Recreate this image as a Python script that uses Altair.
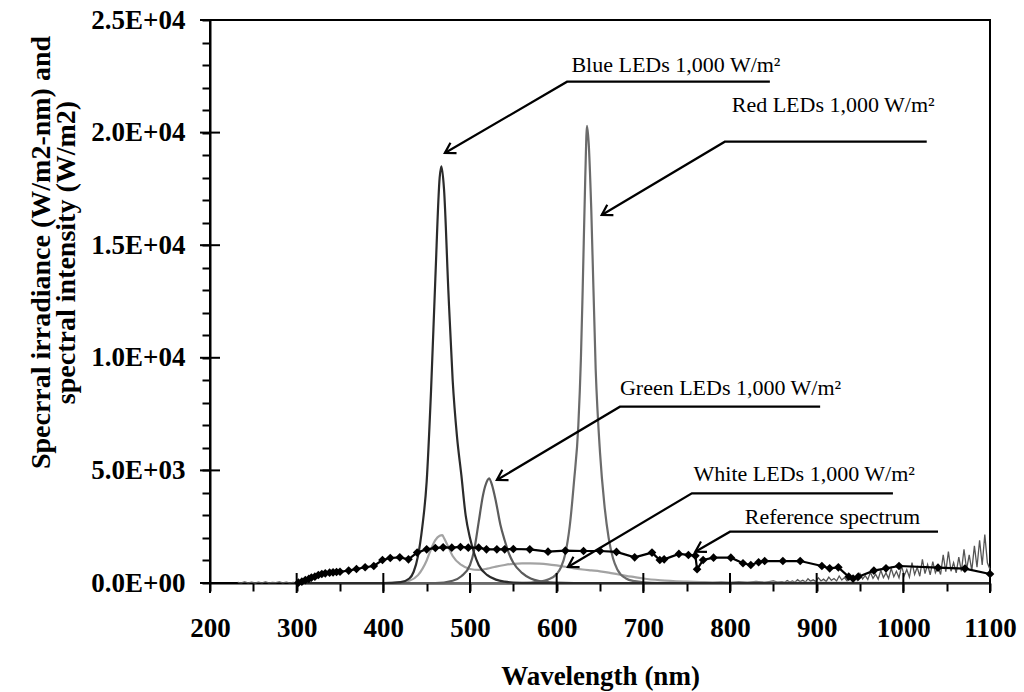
import math
import json
import altair as alt
import pandas as pd

# ---------------- data ----------------
blue_wl = [300, 400, 420, 430, 435, 440, 445, 450, 455, 460, 465, 467, 470, 475, 480, 485, 490, 495, 500, 505, 510, 520, 530, 540, 550, 570, 1100]
blue_val = [0, 0, 40, 200, 500, 1200, 2500, 4500, 8500, 13500, 18000, 18500, 17500, 13000, 9000, 6500, 4800, 3000, 2000, 1300, 800, 350, 150, 60, 20, 0, 0]

red_wl = [300, 560, 580, 590, 600, 605, 610, 615, 620, 625, 628, 630, 633, 635, 637, 640, 645, 650, 655, 660, 665, 670, 680, 690, 700, 720, 760]
red_val = [0, 0, 60, 150, 400, 700, 1300, 2500, 4500, 7000, 10000, 13000, 18000, 20300, 19500, 16500, 9500, 5800, 3500, 2000, 1100, 600, 200, 80, 30, 0, 0]

green_wl = [300, 460, 480, 490, 500, 505, 510, 515, 520, 522, 525, 530, 535, 540, 545, 550, 560, 570, 580, 600, 620, 1100]
green_val = [0, 0, 100, 300, 800, 1500, 2700, 3900, 4550, 4650, 4400, 3600, 2600, 1900, 1300, 900, 450, 200, 90, 20, 0, 0]

white_wl = [300, 400, 420, 430, 440, 450, 455, 460, 465, 468, 470, 475, 480, 490, 500, 510, 520, 530, 540, 550, 560, 570, 580, 590, 600, 610, 620, 630, 640, 650, 660, 670, 680, 690, 700, 720, 750, 800, 1100]
white_val = [0, 0, 30, 100, 350, 1000, 1500, 1900, 2100, 2130, 2000, 1600, 1200, 800, 620, 580, 640, 730, 800, 850, 870, 870, 860, 830, 780, 720, 650, 600, 560, 520, 460, 390, 320, 260, 200, 120, 60, 20, 0]

ref_wl = [302, 306, 310, 314, 317, 321, 325, 329, 333, 338,
          342, 346, 350, 360, 369, 379, 389, 399, 408, 419,
          429, 439, 450, 460, 469, 479, 489, 498, 510, 519,
          531, 540, 550, 569, 590, 610, 631, 650, 669,
          690, 710, 719, 724, 741, 752, 760, 762, 769, 781,
          801, 815, 824, 833, 840, 861, 881, 906, 915, 925,
          937, 942, 948, 966, 980, 995, 1040, 1071, 1100]
ref_val = [15, 60, 130, 180, 240, 280, 355, 400, 430, 460,
           475, 490, 500, 550, 620, 700, 755, 1020, 1110, 1140,
           1050, 1350, 1495, 1555, 1585, 1570, 1600, 1570, 1570, 1495,
           1495, 1495, 1510, 1495, 1390, 1435, 1420, 1420, 1380,
           1140, 1350, 1020, 1050, 1290, 1245, 1215, 610, 1020, 1125,
           1125, 875, 800, 920, 975, 975, 975, 755, 650, 695,
           280, 195, 280, 550, 650, 755, 680, 640, 400]

noise_wl = [232, 236, 240, 244, 248, 252, 256, 260, 264, 268, 272, 276, 280, 284, 288, 292, 296, 300,
            700, 720, 740, 760, 770, 780, 790, 800, 810, 820, 830, 840, 850, 855,
            860, 863, 866, 869, 872, 875, 878, 881, 884, 887, 890, 893, 896, 899, 902, 905, 908, 911,
            914, 917, 920, 923, 926, 929, 932, 935, 938, 941, 944, 947, 950, 953, 956, 959, 962, 965,
            968, 971, 974, 977, 980, 983, 986, 989, 992, 995, 998, 1001, 1004, 1007, 1010, 1013, 1016,
            1019, 1022, 1025, 1028, 1031, 1034, 1037, 1040, 1043, 1046, 1049, 1052, 1055, 1058, 1061,
            1064, 1067, 1070, 1073, 1076, 1079, 1082, 1085, 1088, 1091, 1094, 1097, 1100]
noise_val = [30, 5, 50, 10, 40, 0, 35, 10, 45, 5, 30, 15, 50, 5, 40, 10, 30, 0,
             0, 10, 20, 10, 40, 15, 50, 20, 60, 25, 70, 30, 90, 40,
             60, 20, 110, 40, 90, 30, 150, 60, 120, 40, 190, 80, 140, 60, 230, 90, 170, 70,
             260, 120, 200, 90, 310, 130, 240, 100, 350, 150, 280, 120, 420, 180, 330, 150, 480, 210,
             390, 170, 560, 240, 450, 200, 650, 280, 520, 230, 760, 320, 600, 260, 900, 380, 700,
             300, 1050, 420, 820, 360, 950, 450, 700, 380, 1250, 500, 1400, 520, 900, 450,
             1150, 520, 1500, 600, 1250, 550, 1650, 700, 1900, 800, 2150, 900, 600]

series_names = ["White LEDs", "Red LEDs", "Green LEDs", "Blue LEDs"]
series_colors = ["#a3a3a3", "#6b6b6b", "#5c5c5c", "#2b2b2b"]

# annotations
ann_text = ["Blue LEDs 1,000 W/m\u00b2", "Red LEDs 1,000 W/m\u00b2", "Green LEDs 1,000 W/m\u00b2",
            "White LEDs 1,000 W/m\u00b2", "Reference spectrum"]
ann_text_wl = [617, 802, 673, 758, 817]
ann_text_val = [22690, 20915, 8350, 4530, 2620]
ann_tip_wl = [471, 652, 531, 613, 760]
ann_tip_val = [19094, 16341, 4574, 710, 1390]
ann_elbow_wl = [612, 794, 673, 756, 800]
ann_elbow_val = [22260, 19596, 7829, 3983, 2278]
ann_end_wl = [846, 1027, 904, 988, 1040]

x_ticks = list(range(200, 1101, 50))
x_major = list(range(200, 1101, 100))
x_labels = ["200", "300", "400", "500", "600", "700", "800", "900", "1000", "1100"]
y_ticks = list(range(0, 25001, 1000))
y_major = list(range(0, 25001, 5000))
y_labels = ["0.0E+00", "5.0E+03", "1.0E+04", "1.5E+04", "2.0E+04", "2.5E+04"]

# ---------------- layout constants ----------------
W, H = 780, 563
XMIN, XMAX, YMIN, YMAX = 200, 1100, 0, 25000
FONT = "Liberation Serif"

# ---------------- frames ----------------
rows = []
for name, wl, val in [("White LEDs", white_wl, white_val), ("Red LEDs", red_wl, red_val),
                      ("Green LEDs", green_wl, green_val), ("Blue LEDs", blue_wl, blue_val)]:
    for w, v in zip(wl, val):
        rows.append({"series": name, "wl": w, "val": v})
led_df = pd.DataFrame(rows)
noise_df = pd.DataFrame({"wl": noise_wl, "val": noise_val})
ref_df = pd.DataFrame({"wl": ref_wl, "val": ref_val})

ann_rows = []
head_rows = []
for i in range(len(ann_text)):
    ann_rows.append({"ann": i, "ord": 0, "wl": ann_end_wl[i], "val": ann_elbow_val[i]})
    ann_rows.append({"ann": i, "ord": 1, "wl": ann_elbow_wl[i], "val": ann_elbow_val[i]})
    ann_rows.append({"ann": i, "ord": 2, "wl": ann_tip_wl[i], "val": ann_tip_val[i]})
    dx = (ann_tip_wl[i] - ann_elbow_wl[i]) * W / (XMAX - XMIN)
    dy = -(ann_tip_val[i] - ann_elbow_val[i]) * H / (YMAX - YMIN)
    ang = (math.degrees(math.atan2(dy, dx)) + 360) % 360
    head_rows.append({"wl": ann_tip_wl[i], "val": ann_tip_val[i], "angle": ang})
ann_df = pd.DataFrame(ann_rows)
head_df = pd.DataFrame(head_rows)
text_df = pd.DataFrame({"wl": ann_text_wl, "val": ann_text_val, "label": ann_text})

xmaj_df = pd.DataFrame({"wl": x_major, "val": [0] * len(x_major)})
ymaj_df = pd.DataFrame({"wl": [XMIN] * len(y_major), "val": y_major})

# ---------------- encodings ----------------
x_expr = ("datum.value % 100 === 0 ? " + json.dumps(x_labels) + "[(datum.value - 200) / 100] : ''")
y_expr = ("datum.value % 5000 === 0 ? " + json.dumps(y_labels) + "[datum.value / 5000] : ''")

X = alt.X("wl:Q",
          scale=alt.Scale(domain=[XMIN, XMAX], nice=False, zero=False),
          axis=alt.Axis(values=x_ticks, labelExpr=x_expr, labelPadding=24,
                        labelOverlap=False, labelFlush=False,
                        title="Wavelength (nm)", titleY=101, titleBaseline="alphabetic"))
Y = alt.Y("val:Q",
          scale=alt.Scale(domain=[YMIN, YMAX], nice=False),
          axis=alt.Axis(values=y_ticks, labelExpr=y_expr, labelPadding=17,
                        labelOverlap=False, labelFlush=False,
                        title=["Specrral irradiance (W/m2-nm) and", "spectral intensity (W/m2)"],
                        titleX=-169, titleY=232, titleBaseline="middle", titleAngle=270,
                        titleLineHeight=25, titleFontSize=28))

noise = alt.Chart(noise_df).mark_line(color="#555555", strokeWidth=1.3).encode(x=X, y=Y)

leds = alt.Chart(led_df).mark_line(interpolate="monotone", strokeWidth=2.2).encode(
    x=X, y=Y,
    color=alt.Color("series:N", scale=alt.Scale(domain=series_names, range=series_colors), legend=None),
)

ref_line = alt.Chart(ref_df).mark_line(color="black", strokeWidth=2.2).encode(x=X, y=Y)
ref_pts = alt.Chart(ref_df).mark_point(shape="diamond", filled=True, size=75, color="black", opacity=1).encode(x=X, y=Y)

ann_lines = alt.Chart(ann_df).mark_line(color="black", strokeWidth=2.2).encode(
    x=X, y=Y, detail="ann:N", order="ord:Q")

arrow_path = "M -1 -0.6 L 0 0 L -1 0.6"
heads = alt.Chart(head_df).mark_point(shape=arrow_path, filled=False, stroke="black", strokeWidth=2.2,
                                      size=400, opacity=1).encode(
    x=X, y=Y, angle=alt.Angle("angle:Q", scale=None))

texts = alt.Chart(text_df).mark_text(align="left", baseline="alphabetic", font=FONT, fontSize=22,
                                     color="black").encode(x=X, y=Y, text="label:N")

xmaj = alt.Chart(xmaj_df).mark_tick(orient="vertical", size=20, thickness=2, color="black", opacity=1).encode(x=X, y=Y)
ymaj = alt.Chart(ymaj_df).mark_tick(orient="horizontal", size=20, thickness=2, color="black", opacity=1).encode(x=X, y=Y)

chart = alt.layer(noise, leds, ref_line, ref_pts, ann_lines, heads, texts, xmaj, ymaj).properties(
    width=W, height=H,
    autosize=alt.AutoSizeParams(type="none"),
    padding={"left": 210, "top": 20, "right": 34, "bottom": 109},
    background="white",
).configure_view(stroke="black", strokeWidth=2).configure_axis(
    domainColor="black", domainWidth=2, tickColor="black", tickWidth=2, tickSize=8,
    labelFont=FONT, labelFontSize=27, labelFontWeight="bold", labelColor="black",
    titleFont=FONT, titleFontSize=27, titleFontWeight="bold", titleColor="black", grid=False,
)

chart.save("out.html", embed_options={"renderer": "svg", "actions": False})
